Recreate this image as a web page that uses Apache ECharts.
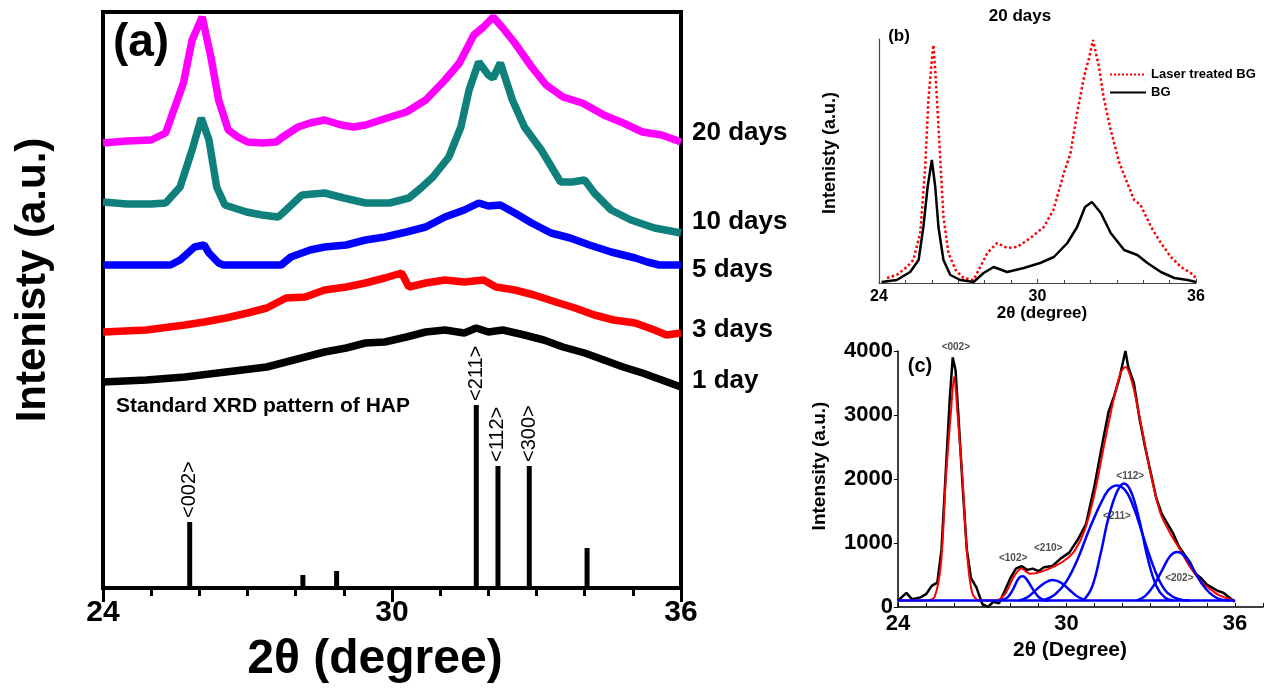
<!DOCTYPE html>
<html>
<head>
<meta charset="utf-8">
<script src="https://cdn.jsdelivr.net/npm/echarts/dist/echarts.min.js"></script>
<style>
html,body{margin:0;padding:0;background:#fff;}
#main{width:1266px;height:688px;}
</style>
</head>
<body>
<div id="main"></div>
<script>
// ---- panel (a) : stacked XRD curves (x = 2theta, y = a.u. with offset) ----
var day20 = [[24.0,445],[24.5,447],[25.0,448],[25.3,455],[25.67,505],[25.85,548],[26.06,571],[26.24,531],[26.4,488],[26.6,458],[26.8,451],[27.0,446],[27.3,445],[27.6,446],[27.7,450],[28.05,461],[28.3,465],[28.6,468],[28.95,463],[29.2,461],[29.45,463],[29.9,470],[30.3,476],[30.7,488],[31.1,508],[31.4,525],[31.7,553],[31.9,561],[32.1,571],[32.3,560],[32.55,545],[32.9,521],[33.2,503],[33.55,491],[33.95,485],[34.4,473],[34.8,465],[35.2,456],[35.6,453],[36.0,446]];
var day10 = [[24.0,386],[24.5,384],[25.0,384],[25.3,385],[25.6,401],[25.85,438],[26.04,470],[26.2,448],[26.36,401],[26.53,383],[26.98,376],[27.3,373],[27.64,371],[27.8,378],[28.13,393],[28.6,395],[29.0,390],[29.45,385],[29.95,385],[30.35,390],[30.6,400],[30.85,411],[31.18,431],[31.43,461],[31.6,498],[31.8,526],[32.0,513],[32.1,510],[32.25,525],[32.5,488],[32.75,461],[33.1,438],[33.5,406],[33.74,406],[34.0,408],[34.2,395],[34.55,378],[34.96,368],[35.45,360],[36.0,355]];
var day5 = [[24.0,323],[25.4,323],[25.6,328],[25.9,341],[26.1,343],[26.2,335],[26.4,325],[26.5,323],[27.7,323],[27.9,331],[28.3,338],[28.6,341],[29.05,343],[29.45,348],[29.85,351],[30.3,356],[30.7,361],[31.1,371],[31.5,378],[31.8,385],[32.0,382],[32.25,383],[32.55,375],[32.9,365],[33.3,355],[33.7,350],[34.1,343],[34.55,336],[35.05,330],[35.3,326],[35.55,323],[36.0,323]];
var day3 = [[24.0,256],[24.9,258],[25.7,263],[26.1,266],[26.55,270],[27.0,275],[27.4,280],[27.8,290],[28.2,291],[28.6,298],[29.05,301],[29.45,305],[29.85,310],[30.2,315],[30.35,301],[30.7,305],[31.1,308],[31.5,306],[31.9,308],[32.16,301],[32.55,298],[32.95,293],[33.4,286],[33.8,280],[34.2,273],[34.6,268],[35.05,265],[35.45,258],[35.7,253],[36.0,255]];
var day1 = [[24.0,206],[24.9,208],[25.7,211],[26.55,216],[27.4,221],[27.8,226],[28.2,231],[28.6,236],[29.05,240],[29.45,245],[29.85,246],[30.3,251],[30.7,256],[31.1,258],[31.5,255],[31.75,260],[32.0,256],[32.3,258],[32.75,253],[33.15,248],[33.55,241],[34.0,235],[34.4,228],[34.8,221],[35.2,215],[35.6,208],[36.0,201]];

// standard HAP sticks
var hapPos = [25.8, 28.15, 28.85, 31.75, 32.2, 32.85, 34.05];
var hapInt = [66, 13, 17, 183, 122, 122, 40];
var hapName = ['<002>', '', '', '<211>', '<112>', '<300>', ''];

// ---- panel (b) : 20 days, laser treated vs BG ----
var laserBG = [[24.3,5],[24.67,8],[25.05,16],[25.3,23],[25.56,50],[25.75,116],[25.87,183],[26.0,223],[26.06,238],[26.16,200],[26.3,133],[26.44,66],[26.63,30],[26.9,13],[27.2,5],[27.58,3],[27.83,16],[28.1,30],[28.47,40],[28.85,35],[29.23,36],[29.73,45],[30.24,56],[30.6,73],[31.0,110],[31.25,130],[31.5,170],[31.76,206],[31.95,225],[32.1,243],[32.33,216],[32.5,186],[32.77,153],[33.1,120],[33.4,100],[33.66,83],[33.9,78],[34.3,56],[34.67,40],[35.05,26],[35.43,16],[35.8,10],[36.0,5]];
var plainBG = [[24.1,1],[24.67,3],[25.18,11],[25.5,23],[25.68,56],[25.84,96],[26.0,123],[26.13,96],[26.25,56],[26.44,23],[26.7,8],[27.08,3],[27.58,1],[27.96,10],[28.34,16],[28.85,11],[29.48,15],[30.1,20],[30.62,26],[31.13,40],[31.5,56],[31.8,76],[32.06,81],[32.4,70],[32.77,50],[33.28,33],[33.78,28],[34.16,20],[34.67,11],[35.18,5],[35.68,3],[36.0,1]];

// ---- panel (c) : peak fitting ----
var rawC = [[24.0,100],[24.3,220],[24.5,120],[24.8,150],[25.0,200],[25.2,330],[25.4,380],[25.55,900],[25.7,2100],[25.85,3300],[25.95,3900],[26.05,3700],[26.15,3000],[26.3,1900],[26.45,900],[26.6,450],[26.8,300],[27.0,50],[27.2,0],[27.4,80],[27.6,60],[27.8,250],[28.0,450],[28.2,600],[28.4,640],[28.6,580],[28.8,600],[29.0,560],[29.2,620],[29.5,640],[29.8,760],[30.1,850],[30.4,1050],[30.7,1300],[31.0,1900],[31.3,2600],[31.5,3050],[31.7,3300],[31.9,3600],[32.0,3800],[32.1,4000],[32.2,3750],[32.4,3500],[32.6,2950],[32.8,2500],[33.0,2100],[33.2,1700],[33.4,1450],[33.6,1300],[33.8,1150],[34.0,950],[34.2,820],[34.4,700],[34.6,520],[34.8,450],[35.0,350],[35.2,300],[35.4,250],[35.6,220],[35.8,150],[36.0,80]];
var fitC = [[24,100],[25.0,100],[25.3,156],[25.53,677],[25.7,1980],[25.88,3020],[26.0,3600],[26.12,3020],[26.3,1980],[26.47,780],[26.65,210],[26.9,100],[27.47,100],[27.82,210],[28.12,470],[28.4,600],[28.7,520],[29.0,537],[29.47,615],[29.94,730],[30.3,885],[30.65,1200],[31.0,1770],[31.35,2550],[31.7,3280],[31.94,3670],[32.1,3750],[32.35,3490],[32.65,2865],[33.0,2080],[33.35,1460],[33.7,1150],[34.06,885],[34.4,625],[34.76,417],[35.1,287],[35.47,177],[36,100]];
var peak102 = [[27.6,100],[27.9,150],[28.1,280],[28.3,450],[28.45,480],[28.6,420],[28.8,280],[29.0,160],[29.2,110],[29.4,100]];
var peak210 = [[28.3,100],[28.6,150],[28.9,260],[29.2,370],[29.5,420],[29.8,380],[30.1,270],[30.4,160],[30.7,105]];
var peak211 = [[29.2,110],[29.6,200],[30.0,400],[30.4,750],[30.8,1200],[31.2,1600],[31.5,1830],[31.8,1900],[32.1,1820],[32.4,1550],[32.7,1150],[33.0,750],[33.3,420],[33.6,220],[34.0,120],[34.4,100]];
var peak112 = [[30.6,100],[30.9,300],[31.2,800],[31.5,1400],[31.8,1800],[32.05,1930],[32.3,1800],[32.6,1350],[32.9,750],[33.2,330],[33.5,150],[33.8,100]];
var peak202 = [[32.5,100],[32.8,170],[33.1,330],[33.4,570],[33.7,800],[33.95,860],[34.2,800],[34.5,600],[34.8,380],[35.1,220],[35.4,130],[35.8,100]];
var baseC = [[24,100],[36,100]];
var cLabelName = ['<002>', '<102>', '<210>', '<211>', '<112>', '<202>'];
var cLabelPos = [[26.06,4064],[28.1,755],[29.35,912],[31.8,1422],[32.27,2048],[34.02,443]];

var FONT = 'Arial, "Liberation Sans", sans-serif';

var myChart = echarts.init(document.getElementById('main'));

function txt(text, x, y, size, rot) {
	return {
		type: 'text', x: x, y: y, rotation: rot || 0,
		style: {
			text: text, font: 'bold ' + size + 'px ' + FONT, fill: '#000',
			align: 'center', verticalAlign: 'middle',
			textAlign: 'center', textVerticalAlign: 'middle'
		}
	};
}

function curve(name, data, color, label, off) {
	return {
		name: name, type: 'line', xAxisIndex: 0, yAxisIndex: 0,
		data: data, showSymbol: false, symbol: 'none',
		lineStyle: { color: color, width: 7.5 },
		endLabel: {
			show: true, formatter: label, distance: 11, offset: [0, off],
			color: '#000', fontSize: 26, fontWeight: 'bold', fontFamily: FONT
		}
	};
}

var hapData = hapPos.map(function (p, i) {
	return { value: [p, hapInt[i]], name: hapName[i] };
});

var cLabels = cLabelPos.map(function (p, i) {
	return { value: p, name: cLabelName[i] };
});

function comp(data) {
	return {
		type: 'line', xAxisIndex: 2, yAxisIndex: 2, data: data, smooth: 0.4,
		symbol: 'none', lineStyle: { color: '#0000ff', width: 2.5 }, z: 4
	};
}

var option = {
	animation: false,
	backgroundColor: '#fff',
	textStyle: { fontFamily: FONT },
	grid: [
		{ left: 103, top: 12, width: 578, height: 576, show: true, borderColor: '#000', borderWidth: 4 },
		{ left: 879, top: 39, width: 317, height: 244 },
		{ left: 898, top: 351, width: 368, height: 256 }
	],
	legend: {
		left: 1104, top: 63, orient: 'vertical', itemWidth: 36, itemHeight: 8, itemGap: 5,
		data: ['Laser treated BG', 'BG'],
		itemStyle: { opacity: 0 },
		textStyle: { fontSize: 13, fontWeight: 'bold', color: '#000', fontFamily: FONT }
	},
	xAxis: [
		{
			gridIndex: 0, type: 'value', min: 24, max: 36, interval: 6,
			axisLine: { lineStyle: { color: '#000', width: 4 } },
			axisTick: { length: 14, lineStyle: { color: '#000', width: 3 } },
			minorTick: { show: true, splitNumber: 6, length: 8, lineStyle: { color: '#000', width: 3 } },
			axisLabel: { fontSize: 30, fontWeight: 'bold', color: '#000', margin: 10 },
			splitLine: { show: false }
		},
		{
			gridIndex: 1, type: 'value', min: 24, max: 36, interval: 6,
			axisLine: { lineStyle: { color: '#444', width: 1.2 } },
			axisTick: { inside: true, length: 4, lineStyle: { color: '#444' } },
			minorTick: { show: true, splitNumber: 6, length: 3, lineStyle: { color: '#444' } },
			axisLabel: { fontSize: 16, fontWeight: 'bold', color: '#000', margin: 6 },
			splitLine: { show: false }
		},
		{
			gridIndex: 2, type: 'value', min: 24, max: 37, interval: 1,
			axisLine: { lineStyle: { color: '#000', width: 1.5 } },
			axisTick: { inside: true, length: 4, lineStyle: { color: '#000' } },
			axisLabel: {
				fontSize: 22, fontWeight: 'bold', color: '#000', margin: 6,
				formatter: function (v) { return (v === 24 || v === 30 || v === 36) ? String(v) : ''; }
			},
			splitLine: { show: false }
		}
	],
	yAxis: [
		{
			gridIndex: 0, type: 'value', min: 0, max: 576,
			axisLine: { show: true, lineStyle: { color: '#000', width: 4 } },
			axisTick: { show: false }, axisLabel: { show: false }, splitLine: { show: false }
		},
		{
			gridIndex: 1, type: 'value', min: 0, max: 244,
			axisLine: { show: true, lineStyle: { color: '#444', width: 1.2 } },
			axisTick: { show: false }, axisLabel: { show: false }, splitLine: { show: false }
		},
		{
			gridIndex: 2, type: 'value', min: 0, max: 4000, interval: 1000,
			axisLine: { show: true, lineStyle: { color: '#000', width: 1.5 } },
			axisTick: { show: true, length: 4, lineStyle: { color: '#000' } },
			axisLabel: {
				fontSize: 22, fontWeight: 'bold', color: '#000', margin: 5,
				formatter: function (v) { return String(v); }
			},
			splitLine: { show: false }
		}
	],
	series: [
		curve('20 days', day20, '#ff00ff', '20 days', -9),
		curve('10 days', day10, '#0f807c', '10 days', -11),
		curve('5 days', day5, '#0000ff', '5 days', 5),
		curve('3 days', day3, '#ff0000', '3 days', -3),
		curve('1 day', day1, '#000000', '1 day', -6),
		{
			type: 'bar', xAxisIndex: 0, yAxisIndex: 0, data: hapData, barWidth: 5,
			itemStyle: { color: '#000' },
			label: {
				show: true, position: 'top', rotate: 90, align: 'left', verticalAlign: 'middle',
				distance: 4, formatter: '{b}', fontSize: 20, color: '#000', fontFamily: FONT
			}
		},
		{
			name: 'Laser treated BG', type: 'line', xAxisIndex: 1, yAxisIndex: 1, data: laserBG,
			symbol: 'none', lineStyle: { color: '#ff0000', width: 2.5, type: 'dotted' }, itemStyle: { color: '#ff0000' }
		},
		{
			name: 'BG', type: 'line', xAxisIndex: 1, yAxisIndex: 1, data: plainBG,
			symbol: 'none', lineStyle: { color: '#000', width: 2.5 }, itemStyle: { color: '#000' }
		},
		{
			type: 'line', xAxisIndex: 2, yAxisIndex: 2, data: rawC, symbol: 'none',
			lineStyle: { color: '#000', width: 2.5 }, z: 2
		},
		{
			type: 'line', xAxisIndex: 2, yAxisIndex: 2, data: fitC, symbol: 'none', smooth: 0.3,
			lineStyle: { color: '#ff0000', width: 2 }, z: 3
		},
		comp(peak102), comp(peak210), comp(peak211), comp(peak112), comp(peak202), comp(baseC),
		{
			type: 'scatter', xAxisIndex: 2, yAxisIndex: 2, data: cLabels, symbolSize: 0, clip: false, z: 6,
			label: {
				show: true, position: 'inside', formatter: '{b}', fontSize: 10, fontWeight: 'bold',
				color: '#222', fontFamily: FONT
			}
		}
	],
	graphic: [
		txt('(a)', 141, 43, 46),
		txt('Standard XRD pattern of HAP', 263, 406, 21),
		txt('Intenisty (a.u.)', 33, 280, 42, Math.PI / 2),
		txt('2\u03b8 (degree)', 375, 660, 48),
		txt('20 days', 1020, 16, 17),
		txt('(b)', 899, 36, 17),
		txt('Intenisty (a.u.)', 830, 153, 18, Math.PI / 2),
		txt('2\u03b8 (degree)', 1042, 313, 17),
		txt('(c)', 920, 366, 20),
		txt('Intensity (a.u.)', 820, 466, 19, Math.PI / 2),
		txt('2\u03b8 (Degree)', 1070, 650, 21)
	]
};

myChart.setOption(option);
</script>
</body>
</html>
